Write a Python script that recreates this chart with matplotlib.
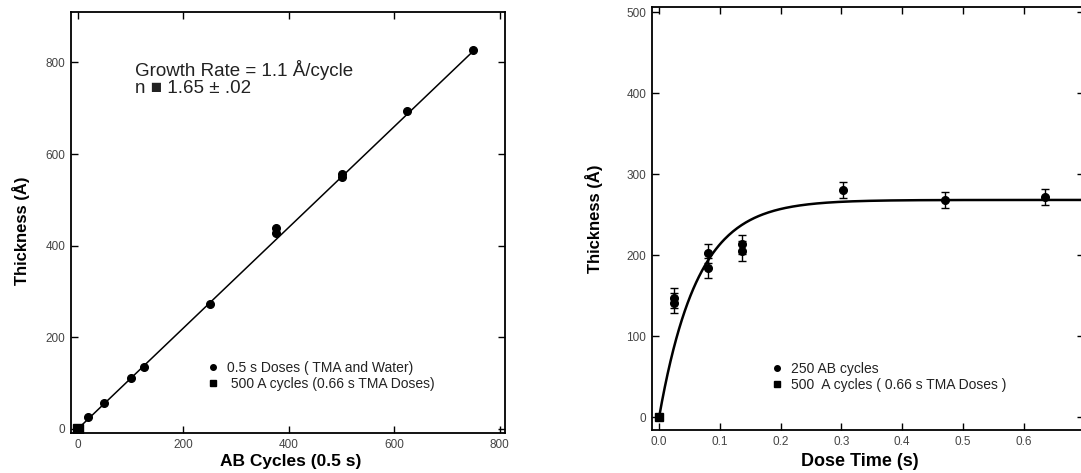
import numpy as np
import matplotlib
matplotlib.use("Agg")
import matplotlib.pyplot as plt
from matplotlib.lines import Line2D

plt.rcParams["font.family"] = ["Liberation Sans", "DejaVu Sans"]

# venstre panel: tykkelse mot antall AB-sykluser
ab_sykluser = [0, 20, 50, 100, 125, 250, 375, 375, 500, 500, 625, 750]
ab_tykkelse = [0, 25, 57, 112, 134, 272, 438, 427, 556, 549, 694, 826]
a_sykluser = [0]
a_tykkelse = [0]
vekstrate = 1.1  # Å/syklus

# høyre panel: tykkelse mot dosetid
dosetid = [0.025, 0.025, 0.081, 0.081, 0.137, 0.137, 0.302, 0.47, 0.636]
dose_tykkelse = [147, 141, 202, 184, 213, 205, 280, 268, 272]
dose_feil = [12, 12, 12, 12, 12, 12, 10, 10, 10]
a_dosetid = [0.0]
a_dose_tykkelse = [0]
metning = 268      # Å
tidskonstant = 0.063  # s

fig = plt.figure(figsize=(10.81, 4.73), dpi=100)
ax1 = fig.add_axes([0.0657, 0.0846, 0.4015, 0.890])
ax2 = fig.add_axes([0.603, 0.0909, 0.40, 0.894])

for ax in (ax1, ax2):
    for s in ax.spines.values():
        s.set_linewidth(1.3)
    ax.tick_params(direction="in", top=True, right=True, length=5, width=1,
                   labelsize=8.5, labelcolor="#444444", pad=4)

# venstre
xs = np.array([0, 750])
ax1.plot(xs, vekstrate * xs, color="black", lw=1.1)
ax1.plot(ab_sykluser, ab_tykkelse, "o", color="black", ms=5.5)
ax1.plot(a_sykluser, a_tykkelse, "s", color="black", ms=7)
ax1.set_xlim(-13, 810)
ax1.set_ylim(-9, 910)
ax1.set_xticks([0, 200, 400, 600, 800])
ax1.set_yticks([0, 200, 400, 600, 800])
ax1.set_xlabel("AB Cycles (0.5 s)", fontsize=12.5, fontweight="bold")
ax1.set_ylabel("Thickness (Å)", fontsize=12, fontweight="bold")
ax1.xaxis.set_label_coords(0.505, -0.05)
ax1.yaxis.set_label_coords(-0.095, 0.48)
ax1.text(0.148, 0.885, "Growth Rate = 1.1 Å/cycle\nn ■ 1.65 ± .02",
         transform=ax1.transAxes, fontsize=13.5, color="#222222",
         linespacing=0.95, va="top")
h1 = [Line2D([], [], marker="o", ls="", color="black", ms=4),
      Line2D([], [], marker="s", ls="", color="black", ms=4.5)]
ax1.legend(h1, ["0.5 s Doses ( TMA and Water)", " 500 A cycles (0.66 s TMA Doses)"],
           loc="upper left", bbox_to_anchor=(0.315, 0.172), frameon=False,
           fontsize=10, handlelength=0.8, handletextpad=0.6, labelspacing=0.15,
           borderpad=0, borderaxespad=0, labelcolor="#222222")

# høyre
tt = np.linspace(0, 0.70, 300)
ax2.plot(tt, metning * (1 - np.exp(-tt / tidskonstant)), color="black", lw=1.8)
ax2.errorbar(dosetid, dose_tykkelse, yerr=dose_feil, fmt="o", color="black",
             ms=5.5, capsize=3, elinewidth=1, capthick=1)
ax2.plot(a_dosetid, a_dose_tykkelse, "s", color="black", ms=6)
ax2.set_xlim(-0.012, 0.70)
ax2.set_ylim(-16, 506)
ax2.set_xticks([0.0, 0.1, 0.2, 0.3, 0.4, 0.5, 0.6, 0.7])
ax2.set_xticklabels(["0.0", "0.1", "0.2", "0.3", "0.4", "0.5", "0.6", ""])
ax2.set_yticks([0, 100, 200, 300, 400, 500])
ax2.set_xlabel("Dose Time (s)", fontsize=13, fontweight="bold")
ax2.set_ylabel("Thickness (Å)", fontsize=12, fontweight="bold")
ax2.xaxis.set_label_coords(0.48, -0.055)
ax2.yaxis.set_label_coords(-0.113, 0.50)
h2 = [Line2D([], [], marker="o", ls="", color="black", ms=4),
      Line2D([], [], marker="s", ls="", color="black", ms=4.5)]
ax2.legend(h2, ["250 AB cycles", "500  A cycles ( 0.66 s TMA Doses )"],
           loc="upper left", bbox_to_anchor=(0.277, 0.162), frameon=False,
           fontsize=10, handlelength=0.8, handletextpad=0.6, labelspacing=0.15,
           borderpad=0, borderaxespad=0, labelcolor="#222222")

plt.savefig("out.png", dpi=100)
